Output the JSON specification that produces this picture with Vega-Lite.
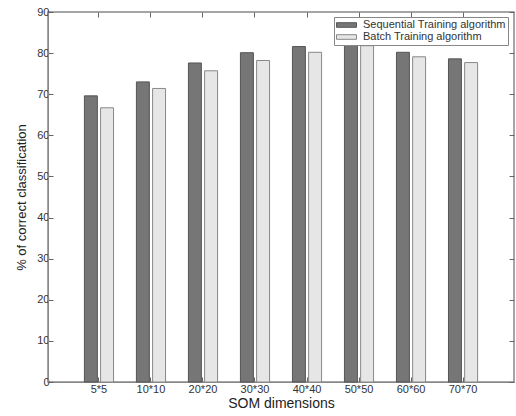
{
  "$schema": "https://vega.github.io/schema/vega-lite/v6.json",
  "width": 466,
  "height": 370,
  "autosize": {"type": "none"},
  "padding": {"left": 48, "top": 12, "right": 2, "bottom": 34},
  "background": "white",
  "config": {
    "font": "Liberation Sans",
    "view": {"stroke": "#888888", "strokeWidth": 1.5},
    "axis": {"grid": false, "domainColor": "#888888", "tickColor": "#666666", "labelColor": "#333333", "titleColor": "#222222", "labelFont": "Liberation Sans", "titleFont": "Liberation Sans", "titleFontWeight": "normal"}
  },
  "data": {
    "values": [
      {"dim": "5*5", "alg": "Sequential Training algorithm", "v": 69.6},
      {"dim": "5*5", "alg": "Batch Training algorithm", "v": 66.7},
      {"dim": "10*10", "alg": "Sequential Training algorithm", "v": 73.0},
      {"dim": "10*10", "alg": "Batch Training algorithm", "v": 71.4},
      {"dim": "20*20", "alg": "Sequential Training algorithm", "v": 77.6},
      {"dim": "20*20", "alg": "Batch Training algorithm", "v": 75.7},
      {"dim": "30*30", "alg": "Sequential Training algorithm", "v": 80.1},
      {"dim": "30*30", "alg": "Batch Training algorithm", "v": 78.2},
      {"dim": "40*40", "alg": "Sequential Training algorithm", "v": 81.6},
      {"dim": "40*40", "alg": "Batch Training algorithm", "v": 80.2},
      {"dim": "50*50", "alg": "Sequential Training algorithm", "v": 84.0},
      {"dim": "50*50", "alg": "Batch Training algorithm", "v": 81.8},
      {"dim": "60*60", "alg": "Sequential Training algorithm", "v": 80.2},
      {"dim": "60*60", "alg": "Batch Training algorithm", "v": 79.1},
      {"dim": "70*70", "alg": "Sequential Training algorithm", "v": 78.6},
      {"dim": "70*70", "alg": "Batch Training algorithm", "v": 77.7}
    ]
  },
  "encoding": {
    "x": {
      "field": "dim", "type": "nominal", "sort": null,
      "scale": {"paddingInner": 0.44, "paddingOuter": 0.7}
    },
    "y": {
      "field": "v", "type": "quantitative",
      "scale": {"domain": [0, 90], "nice": false}
    }
  },
  "layer": [
    {
      "mark": {"type": "bar", "strokeWidth": 1},
      "encoding": {
        "x": {
          "field": "dim", "type": "nominal", "sort": null,
          "axis": {"title": "SOM dimensions", "labelAngle": 0, "labelFontSize": 11, "labelColor": "#333333", "titleFontSize": 14, "tickSize": -5, "labelPadding": 6, "titlePadding": 2, "domain": true}
        },
        "y": {
          "field": "v", "type": "quantitative",
          "axis": {"title": "% of correct classification", "values": [0,10,20,30,40,50,60,70,80,90], "labelFontSize": 11, "labelColor": "#333333", "titleFontSize": 13, "tickSize": -5, "labelPadding": 4, "titlePadding": 8}
        },
        "xOffset": {
          "field": "alg", "type": "nominal", "sort": ["Sequential Training algorithm", "Batch Training algorithm"],
          "scale": {"paddingInner": 0.2, "paddingOuter": 0}
        },
        "fill": {
          "field": "alg", "type": "nominal",
          "sort": ["Sequential Training algorithm", "Batch Training algorithm"],
          "scale": {"domain": ["Sequential Training algorithm", "Batch Training algorithm"], "range": ["#767676", "#e6e6e6"]},
          "legend": {
            "title": null, "orient": "none", "legendX": 286, "legendY": 5,
            "symbolType": "M-1,-0.23H1V0.23H-1Z", "symbolSize": 400,
            "symbolStrokeColor": "#555555", "symbolStrokeWidth": 1,
            "labelFontSize": 11, "labelLimit": 400, "labelColor": "#333333", "rowPadding": 0,
            "clipHeight": 12,
            "strokeColor": "#888888", "fillColor": "white", "padding": 2, "labelOffset": 6
          }
        },
        "stroke": {
          "field": "alg", "type": "nominal",
          "scale": {"domain": ["Sequential Training algorithm", "Batch Training algorithm"], "range": ["#555555", "#888888"]},
          "legend": null
        }
      }
    },
    {
      "mark": {"type": "tick", "opacity": 0},
      "encoding": {
        "x": {
          "field": "dim", "type": "nominal", "sort": null,
          "axis": {"orient": "top", "title": null, "labels": false, "ticks": true, "tickSize": -5, "tickWidth": 1, "domain": false}
        },
        "y": {
          "field": "v", "type": "quantitative",
          "axis": {"orient": "right", "title": null, "labels": false, "ticks": true, "values": [0,10,20,30,40,50,60,70,80,90], "tickSize": -5, "tickWidth": 1, "domain": false}
        }
      }
    }
  ],
  "resolve": {"axis": {"x": "independent", "y": "independent"}}
}
